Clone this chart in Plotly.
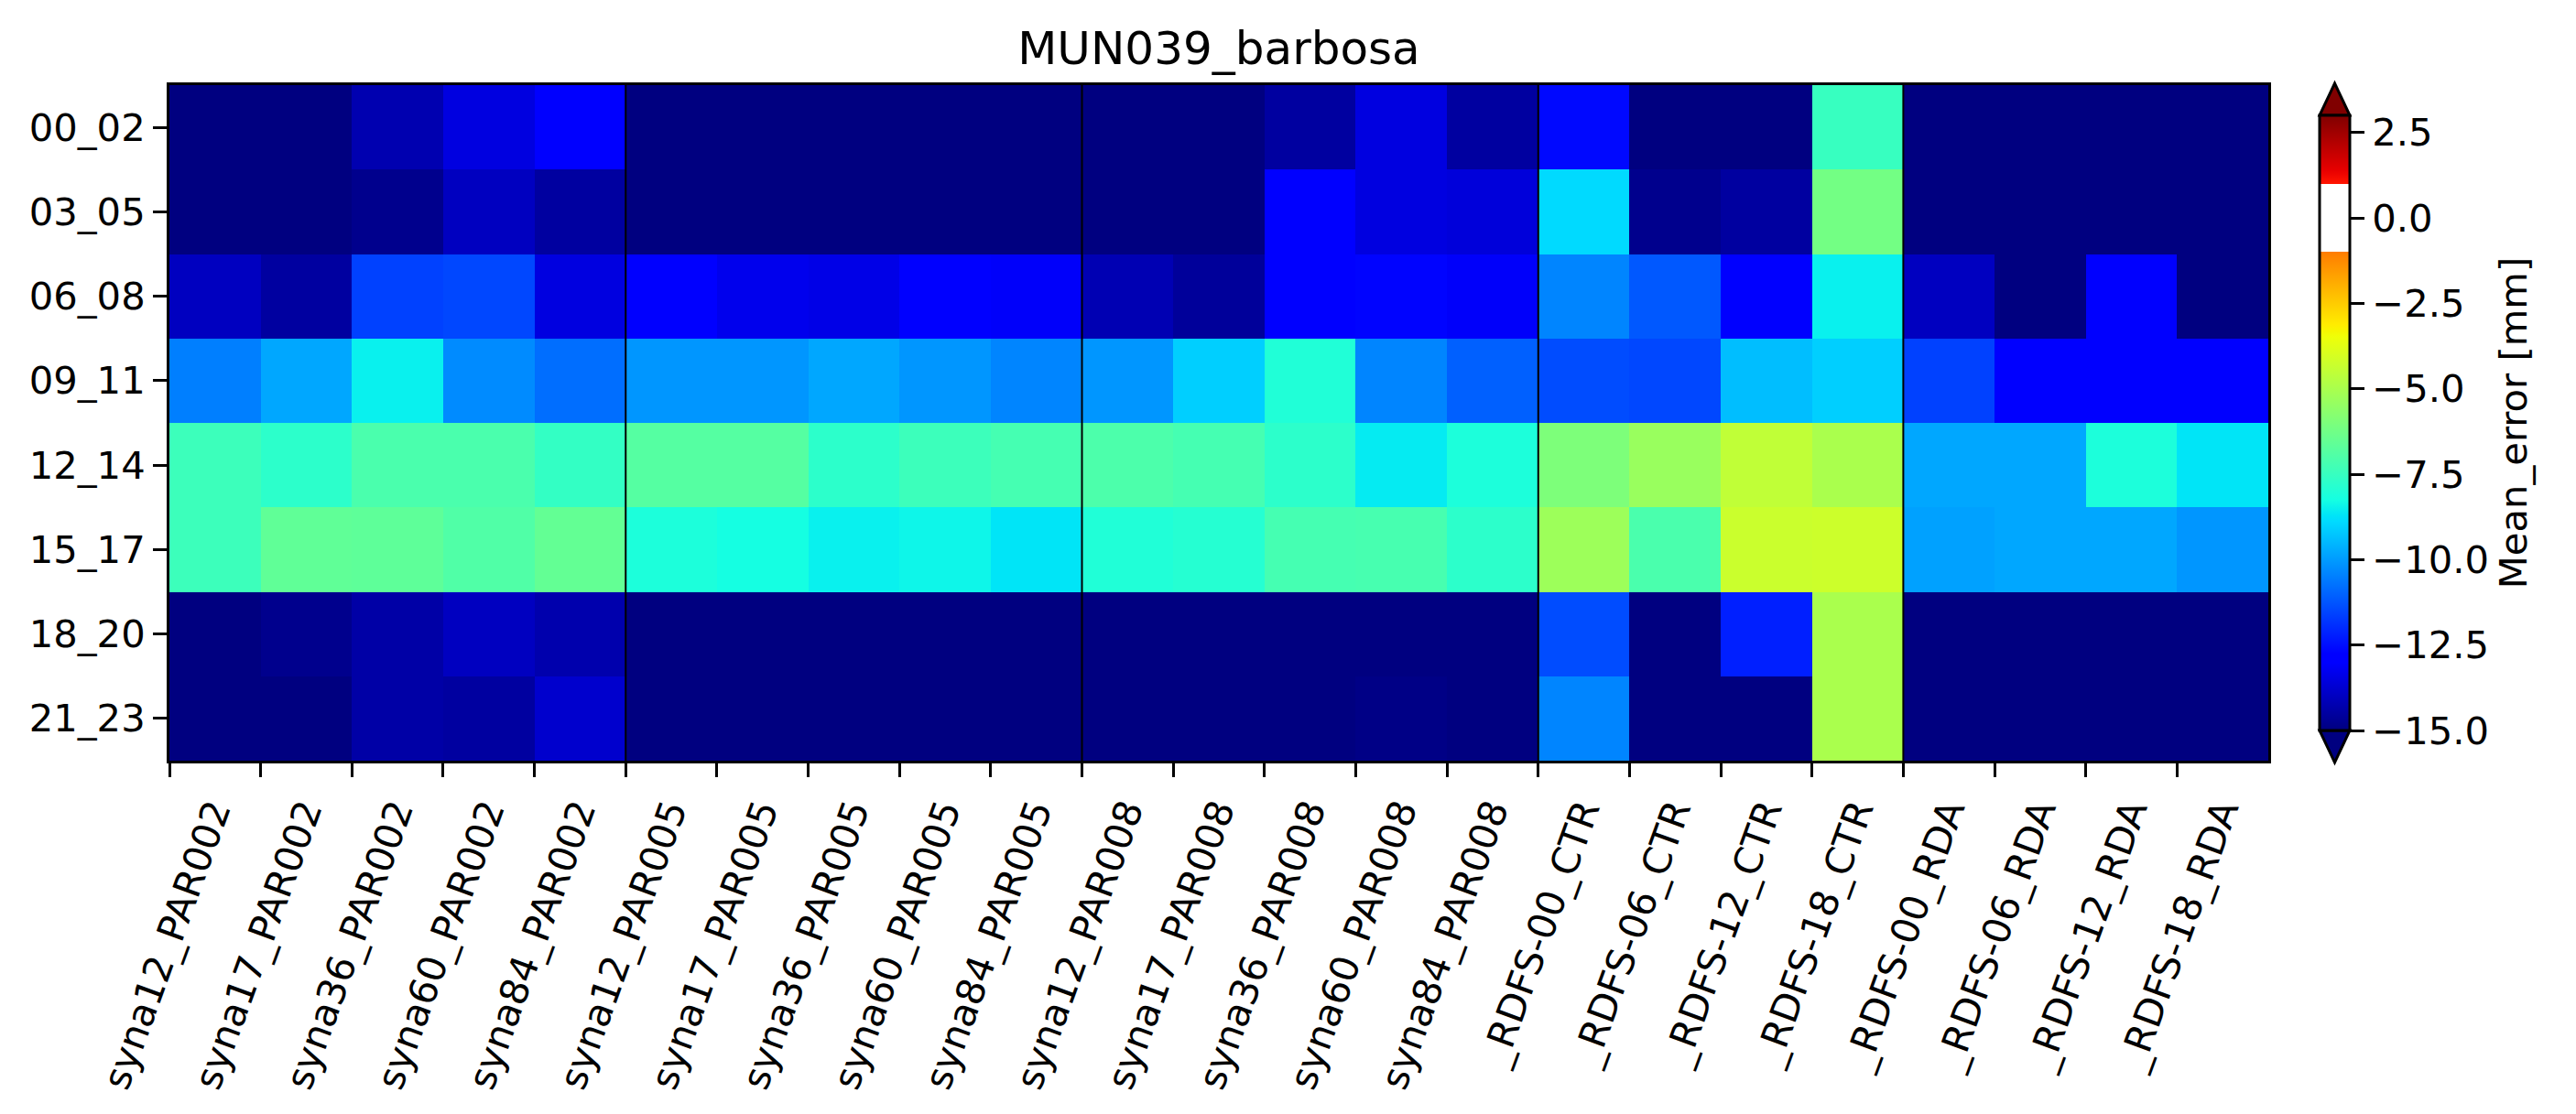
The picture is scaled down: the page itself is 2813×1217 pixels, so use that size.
import numpy as np
import plotly.graph_objects as go

# ---------------- data ----------------
title_text = "MUN039_barbosa"
cbar_title = "Mean_error [mm]"

models = [
    "syna12_PAR002", "syna17_PAR002", "syna36_PAR002", "syna60_PAR002", "syna84_PAR002",
    "syna12_PAR005", "syna17_PAR005", "syna36_PAR005", "syna60_PAR005", "syna84_PAR005",
    "syna12_PAR008", "syna17_PAR008", "syna36_PAR008", "syna60_PAR008", "syna84_PAR008",
    "_RDFS-00_CTR", "_RDFS-06_CTR", "_RDFS-12_CTR", "_RDFS-18_CTR",
    "_RDFS-00_RDA", "_RDFS-06_RDA", "_RDFS-12_RDA", "_RDFS-18_RDA",
]
group_sizes = [5, 5, 5, 4, 4]

hours = ["00_02", "03_05", "06_08", "09_11", "12_14", "15_17", "18_20", "21_23"]

me_00_02 = [-16, -16, -14.25, -13.5, -13.0, -16, -16, -16, -16, -16, -16, -16,
            -14.5, -13.5, -14.5, -12.6, -16, -16, -7.5, -16, -16, -16, -16]
me_03_05 = [-16, -16, -14.8, -14.0, -14.5, -16, -16, -16, -16, -16, -16, -16,
            -12.9, -13.5, -13.6, -8.9, -14.8, -14.5, -6.2, -16, -16, -16, -16]
me_06_08 = [-14.0, -14.5, -11.6, -11.5, -13.5, -12.9, -13.3, -13.4, -12.9, -13.1, -14.2, -14.6,
            -12.9, -12.7, -13.1, -10.4, -11.2, -12.8, -8.5, -14.0, -16, -12.9, -16]
me_09_11 = [-10.5, -9.8, -8.5, -10.3, -10.8, -10.1, -10.1, -9.8, -10.1, -10.4, -10.1, -9.1,
            -8.0, -10.4, -11.06, -11.4, -11.5, -9.4, -9.1, -11.6, -13.0, -12.75, -12.9]
me_12_14 = [-7.4, -7.75, -7.1, -7.1, -7.6, -6.85, -6.85, -7.75, -7.4, -7.2, -7.05, -7.2,
            -7.75, -8.6, -8.1, -5.97, -5.37, -4.5, -4.98, -9.8, -9.8, -8.1, -8.7]
me_15_17 = [-7.4, -6.6, -6.65, -6.95, -6.55, -8.1, -8.25, -8.5, -8.4, -8.7, -8.0, -7.9,
            -7.2, -7.15, -7.75, -5.28, -7.1, -4.3, -4.25, -9.9, -9.8, -9.8, -10.1]
me_18_20 = [-16, -14.8, -14.4, -14.0, -14.3, -16, -16, -16, -16, -16, -16, -16,
            -16, -16, -16, -11.4, -16, -12.2, -5.0, -16, -16, -16, -16]
me_21_23 = [-16, -16, -14.4, -14.5, -13.8, -16, -16, -16, -16, -16, -16, -16,
            -16, -14.9, -16, -10.4, -16, -16, -5.0, -16, -16, -16, -16]

vmin, vmax = -15.0, 3.0
white_lo, white_hi = -1.0, 1.0
cbar_ticks = [-15.0, -12.5, -10.0, -7.5, -5.0, -2.5, 0.0, 2.5]

# ---------------- colormap (jet with white band) ----------------
JET = {
    "r": [(0, 0), (0.35, 0), (0.66, 1), (0.89, 1), (1, 0.5)],
    "g": [(0, 0), (0.125, 0), (0.375, 1), (0.64, 1), (0.91, 0), (1, 0)],
    "b": [(0, 0.5), (0.11, 1), (0.34, 1), (0.65, 0), (1, 0)],
}


def jet(t):
    out = []
    for k in ("r", "g", "b"):
        xs = [p[0] for p in JET[k]]
        ys = [p[1] for p in JET[k]]
        out.append(int(round(float(np.interp(t, xs, ys)) * 255)))
    return "rgb(%d,%d,%d)" % tuple(out)


t1 = (white_lo - vmin) / (vmax - vmin)
t2 = (white_hi - vmin) / (vmax - vmin)
bps = sorted(set([0, 0.11, 0.125, 0.34, 0.35, 0.375, 0.64, 0.65, 0.66, 0.89, 0.91, 1.0]))
cscale = [[t, jet(t)] for t in bps if t < t1]
cscale += [[t1, jet(t1)], [t1, "white"], [t2, "white"], [t2, jet(t2)]]
cscale += [[t, jet(t)] for t in bps if t > t2]

# ---------------- geometry ----------------
W, H = 2813, 1217
L, R, T, B = 185, 336, 93, 386
pw, ph = W - L - R, H - T - B
FONT = "DejaVu Sans"
tick_fs = 41.7

cb_left, cb_w, cb_top, cb_len, arrow_h = 2533, 33, 126, 672, 35


def px_x(px):
    return (px - L) / pw


def px_y(py):
    return (H - B - py) / ph


z = [me_00_02, me_03_05, me_06_08, me_09_11, me_12_14, me_15_17, me_18_20, me_21_23]
xc = np.arange(len(models)) + 0.5
yc = np.arange(len(hours)) + 0.5

fig = go.Figure()
fig.add_trace(go.Heatmap(
    z=z, x=xc, y=yc, zmin=vmin, zmax=vmax, colorscale=cscale,
    colorbar=dict(
        thickness=cb_w, thicknessmode="pixels",
        len=cb_len, lenmode="pixels",
        x=px_x(cb_left), xanchor="left", xpad=0,
        y=px_y(cb_top), yanchor="top", ypad=0,
        outlinewidth=3, outlinecolor="black",
        ticks="outside", ticklen=15, tickwidth=3, tickcolor="black",
        tickvals=cbar_ticks, tickformat=".1f",
        tickfont=dict(family=FONT, size=tick_fs, color="black"),
        title=dict(text=cbar_title, side="right",
                   font=dict(family=FONT, size=tick_fs, color="black")),
    ),
))

shapes = []
# group separators
for b in np.cumsum(group_sizes)[:-1]:
    shapes.append(dict(type="line", xref="x", yref="paper", x0=b, x1=b, y0=0, y1=1,
                       line=dict(color="black", width=2)))
# extend arrows on colorbar
xl, xr, xm = px_x(cb_left), px_x(cb_left + cb_w), px_x(cb_left + cb_w / 2)
ytop, yapex_t = px_y(cb_top), px_y(cb_top - arrow_h)
ybot, yapex_b = px_y(cb_top + cb_len), px_y(cb_top + cb_len + arrow_h)
shapes.append(dict(type="path", xref="paper", yref="paper",
                   path=f"M {xl} {ytop} L {xm} {yapex_t} L {xr} {ytop} Z",
                   fillcolor=jet(1.0), line=dict(color="black", width=3)))
shapes.append(dict(type="path", xref="paper", yref="paper",
                   path=f"M {xl} {ybot} L {xm} {yapex_b} L {xr} {ybot} Z",
                   fillcolor=jet(0.0), line=dict(color="black", width=3)))

fig.update_layout(
    width=W, height=H,
    margin=dict(l=L, r=R, t=T, b=B, pad=0, autoexpand=False),
    paper_bgcolor="white", plot_bgcolor="white",
    font=dict(family=FONT, color="black", size=tick_fs),
    title=dict(text=title_text, x=0.5, xref="paper", xanchor="center",
               y=1 - 52 / H, yref="container", yanchor="middle",
               font=dict(family=FONT, size=50, color="black")),
    shapes=shapes,
    xaxis=dict(range=[0, len(models)], tickmode="array",
               tickvals=np.arange(len(models)), ticktext=models,
               tickangle=-70, ticks="outside", ticklen=15, tickwidth=3, tickcolor="black",
               ticklabelshift=48, ticklabelstandoff=-4, automargin=False,
               showline=True, mirror=True, linewidth=3, linecolor="black",
               showgrid=False, zeroline=False,
               tickfont=dict(family=FONT, size=tick_fs, color="black")),
    yaxis=dict(range=[len(hours), 0], tickmode="array",
               tickvals=yc, ticktext=hours, automargin=False,
               ticks="outside", ticklen=15, tickwidth=3, tickcolor="black",
               showline=True, mirror=True, linewidth=3, linecolor="black",
               showgrid=False, zeroline=False,
               tickfont=dict(family=FONT, size=tick_fs, color="black")),
)

fig.write_html("out.html", config={"displayModeBar": False},
               post_script="document.body.style.margin='0px';document.body.style.overflow='hidden';")
